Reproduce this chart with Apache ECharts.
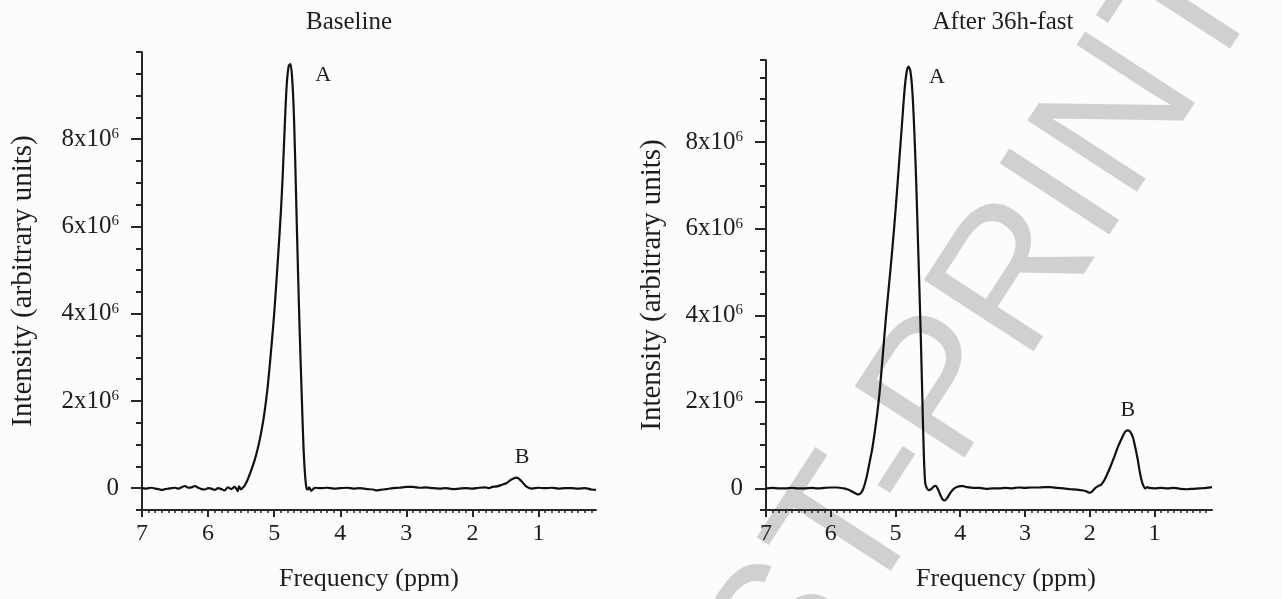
<!DOCTYPE html>
<html>
<head>
<meta charset="utf-8">
<script src="https://cdn.jsdelivr.net/npm/echarts@6/dist/echarts.min.js"></script>
<style>
  html, body { margin: 0; padding: 0; background: #fcfcfc; }
  #chart { width: 1282px; height: 599px; }
</style>
</head>
<body>
<div id="chart"></div>
<script>
// chemical shift (ppm) and intensity (in units of 10^6, arbitrary)
const baselinePpm = [7.0, 6.95, 6.9, 6.85, 6.8, 6.75, 6.7, 6.65, 6.6, 6.55, 6.5, 6.45, 6.4, 6.35, 6.3, 6.25, 6.2, 6.15, 6.1, 6.05,
  6.0, 5.95, 5.9, 5.85, 5.8, 5.75, 5.7, 5.65, 5.6, 5.57, 5.55, 5.53, 5.5, 5.47, 5.45, 5.4, 5.35, 5.3, 5.25, 5.2,
  5.15, 5.1, 5.05, 5.0, 4.95, 4.9, 4.87, 4.84, 4.81, 4.78, 4.755, 4.73, 4.7, 4.67, 4.64, 4.61, 4.58, 4.555, 4.53, 4.51,
  4.49, 4.47, 4.44, 4.41, 4.38, 4.3, 4.2, 4.1, 4.0, 3.9, 3.8, 3.7, 3.6, 3.5, 3.45, 3.4, 3.3, 3.2, 3.1, 3.0,
  2.9, 2.8, 2.7, 2.6, 2.5, 2.4, 2.3, 2.2, 2.1, 2.0, 1.9, 1.8, 1.75, 1.7, 1.63, 1.55, 1.48, 1.42, 1.37, 1.33,
  1.29, 1.24, 1.2, 1.15, 1.1, 1.0, 0.9, 0.8, 0.7, 0.6, 0.5, 0.4, 0.3, 0.2, 0.13]
const baselineInt = [0.0, -0.01, 0.0, 0.01, -0.01, -0.02, -0.04, -0.02, -0.01, 0.0, 0.01, -0.01, 0.02, 0.05, 0.01, 0.02, 0.05, 0.01, -0.02, -0.03,
  0.0, -0.01, -0.04, 0.0, -0.02, -0.05, 0.02, -0.02, 0.03, -0.02, -0.07, 0.04, -0.03, 0.02, 0.05, 0.2, 0.4, 0.62, 0.9, 1.25,
  1.7, 2.3, 3.1, 4.0, 5.1, 6.3, 7.2, 8.3, 9.25, 9.68, 9.72, 9.45, 8.5, 6.8, 5.0, 3.4, 2.0, 0.9, 0.25, 0.0,
  -0.03, 0.02, -0.06, -0.02, 0.01, 0.0, 0.01, -0.01, 0.0, 0.01, -0.01, 0.0, -0.02, -0.03, -0.05, -0.04, -0.02, 0.0, 0.01, 0.03,
  0.03, 0.01, 0.02, 0.0, -0.01, 0.0, -0.02, -0.01, 0.0, -0.01, 0.01, 0.02, 0.0, 0.03, 0.04, 0.08, 0.12, 0.19, 0.23, 0.24,
  0.21, 0.13, 0.06, 0.01, -0.01, 0.01, 0.0, 0.01, -0.01, 0.0, 0.0, -0.01, 0.0, -0.03, -0.04]

const fastPpm = [7.0, 6.9, 6.8, 6.7, 6.6, 6.5, 6.4, 6.3, 6.2, 6.1, 6.0, 5.9, 5.8, 5.75, 5.7, 5.65, 5.6, 5.57, 5.53, 5.5,
  5.47, 5.44, 5.4, 5.36, 5.32, 5.28, 5.24, 5.2, 5.15, 5.1, 5.05, 5.0, 4.95, 4.9, 4.86, 4.83, 4.8, 4.77, 4.74, 4.71,
  4.68, 4.65, 4.62, 4.6, 4.58, 4.56, 4.54, 4.52, 4.49, 4.45, 4.41, 4.38, 4.35, 4.31, 4.27, 4.24, 4.2, 4.15, 4.1, 4.05,
  4.0, 3.95, 3.9, 3.8, 3.7, 3.6, 3.5, 3.4, 3.3, 3.2, 3.1, 3.0, 2.9, 2.8, 2.7, 2.6, 2.5, 2.4, 2.3, 2.2,
  2.1, 2.05, 2.0, 1.96, 1.92, 1.87, 1.82, 1.77, 1.72, 1.68, 1.62, 1.56, 1.5, 1.45, 1.41, 1.37, 1.33, 1.3, 1.26, 1.23,
  1.2, 1.17, 1.14, 1.11, 1.08, 1.0, 0.9, 0.8, 0.7, 0.6, 0.5, 0.4, 0.3, 0.2, 0.11]
const fastInt = [0.0, 0.01, 0.0, 0.0, 0.01, 0.0, 0.0, 0.01, 0.0, 0.01, 0.02, 0.02, 0.0, -0.02, -0.05, -0.09, -0.13, -0.14, -0.1, -0.02,
  0.12, 0.3, 0.6, 0.9, 1.3, 1.75, 2.3, 3.0, 3.9, 4.7, 5.5, 6.4, 7.4, 8.4, 9.2, 9.6, 9.75, 9.65, 9.2, 8.3,
  7.1, 5.6, 4.1, 3.0, 1.8, 0.7, 0.12, 0.02, -0.04, -0.02, 0.04, 0.06, 0.0, -0.14, -0.26, -0.28, -0.22, -0.1, -0.01, 0.03,
  0.05, 0.05, 0.03, 0.01, 0.01, -0.01, 0.0, 0.0, 0.01, 0.0, 0.02, 0.01, 0.02, 0.02, 0.03, 0.03, 0.01, 0.0, -0.02, -0.03,
  -0.05, -0.07, -0.1, -0.07, 0.0, 0.05, 0.09, 0.2, 0.36, 0.5, 0.73, 0.97, 1.17, 1.31, 1.34, 1.3, 1.17, 0.98, 0.69, 0.42,
  0.2, 0.06, 0.0, 0.03, 0.01, 0.0, 0.01, 0.0, 0.01, -0.01, -0.02, -0.01, 0.0, 0.01, 0.03]

const yTickValues = [0, 2, 4, 6, 8]
const xTickValues = [7, 6, 5, 4, 3, 2, 1]
const peakNames = ['A', 'B']
const baselinePeakPos = [[4.26, 9.47], [1.25, 0.72]]
const fastPeakPos = [[4.36, 9.51], [1.41, 1.81]]

const serif = 'Liberation Serif'
const axisColor = '#262626'
const textColor = '#1e1e1e'

// minor tick positions every 0.1 ppm
const xMinorTicks = []
for (let i = 2; i <= 70; i++) xMinorTicks.push(i / 10)

const pairs = (xs, ys) => xs.map((x, i) => [x, ys[i]])

const makeXAxes = (gridIndex, min, namePad) => [
  {
    type: 'value', gridIndex, position: 'bottom', min, max: 7, inverse: true,
    axisLine: { show: true, onZero: false, lineStyle: { color: axisColor, width: 2 } },
    axisTick: { show: true, customValues: xMinorTicks, length: 3, lineStyle: { color: axisColor, width: 1.5 } },
    axisLabel: { show: false },
    splitLine: { show: false }
  },
  {
    type: 'value', gridIndex, position: 'bottom', min, max: 7, inverse: true,
    axisLine: { show: false, onZero: false },
    axisTick: { show: true, customValues: xTickValues, length: 7, lineStyle: { color: axisColor, width: 2 } },
    axisLabel: { show: true, customValues: xTickValues, margin: 12, fontSize: 24, fontFamily: serif, color: textColor },
    splitLine: { show: false },
    name: 'Frequency (ppm)', nameLocation: 'middle', nameGap: 56,
    nameTextStyle: { fontSize: 26, fontFamily: serif, color: textColor, padding: [0, 0, 0, namePad] }
  }
]

const makeYAxes = (gridIndex, max, nameGap) => [
  {
    type: 'value', gridIndex, position: 'left', min: -0.5, max, interval: 0.5,
    axisLine: { show: true, onZero: false, lineStyle: { color: axisColor, width: 2 } },
    axisTick: { show: true, length: 6, lineStyle: { color: axisColor, width: 2 } },
    axisLabel: { show: false },
    splitLine: { show: false }
  },
  {
    type: 'value', gridIndex, position: 'left', min: -0.5, max, interval: 0.5,
    axisLine: { show: false, onZero: false },
    axisTick: { show: true, customValues: yTickValues, length: 11, lineStyle: { color: axisColor, width: 2 } },
    axisLabel: {
      show: true, customValues: yTickValues, margin: 23,
      fontSize: 25, fontFamily: serif, color: textColor,
      formatter: v => v === 0 ? '{n|0}' : '{n|' + v + 'x10}{s|6}',
      rich: {
        n: { fontSize: 25, fontFamily: serif, color: textColor },
        s: { fontSize: 15, fontFamily: serif, color: textColor, padding: [0, 0, 10, 0] }
      }
    },
    splitLine: { show: false },
    name: 'Intensity (arbitrary units)', nameLocation: 'middle', nameGap, nameRotate: 90,
    nameTextStyle: { fontSize: 29, fontFamily: serif, color: textColor }
  }
]

const peakMarks = positions => ({
  symbol: 'circle', symbolSize: 1,
  itemStyle: { color: 'transparent' },
  label: { show: true, position: 'inside', formatter: '{b}', fontSize: 22, fontFamily: serif, color: textColor },
  data: positions.map((p, i) => ({ name: peakNames[i], coord: p }))
})

const chart = echarts.init(document.getElementById('chart'))
chart.setOption({
  backgroundColor: '#fcfcfc',
  animation: false,
  graphic: [
    {
      type: 'text', x: 912, y: 442, rotation: 57 * Math.PI / 180, z: 0, silent: true,
      style: {
        text: 'POST-PRINT', fontSize: 190, fontFamily: 'Liberation Sans', fill: '#d0d0d0',
        align: 'center', verticalAlign: 'middle', textAlign: 'center', textVerticalAlign: 'middle'
      }
    },
    {
      type: 'text', x: 349, y: 22, z: 5, silent: true,
      style: { text: 'Baseline', fontSize: 25, fontFamily: serif, fill: textColor, align: 'center', verticalAlign: 'middle', textAlign: 'center', textVerticalAlign: 'middle' }
    },
    {
      type: 'text', x: 1003, y: 22, z: 5, silent: true,
      style: { text: 'After 36h-fast', fontSize: 25, fontFamily: serif, fill: textColor, align: 'center', verticalAlign: 'middle', textAlign: 'center', textVerticalAlign: 'middle' }
    }
  ],
  grid: [
    { left: 142, top: 52, width: 454, height: 458 },
    { left: 766, top: 60, width: 446, height: 450 }
  ],
  xAxis: [...makeXAxes(0, 0.13, 0), ...makeXAxes(1, 0.11, 34)],
  yAxis: [...makeYAxes(0, 10, 104), ...makeYAxes(1, 9.9, 99)],
  series: [
    {
      name: 'Baseline', type: 'line', xAxisIndex: 0, yAxisIndex: 0,
      data: pairs(baselinePpm, baselineInt),
      showSymbol: false, smooth: 0.3,
      lineStyle: { color: '#111', width: 2.2 },
      markPoint: peakMarks(baselinePeakPos)
    },
    {
      name: 'After 36h-fast', type: 'line', xAxisIndex: 2, yAxisIndex: 2,
      data: pairs(fastPpm, fastInt),
      showSymbol: false, smooth: 0.3,
      lineStyle: { color: '#111', width: 2.2 },
      markPoint: peakMarks(fastPeakPos)
    }
  ]
})
</script>
</body>
</html>
